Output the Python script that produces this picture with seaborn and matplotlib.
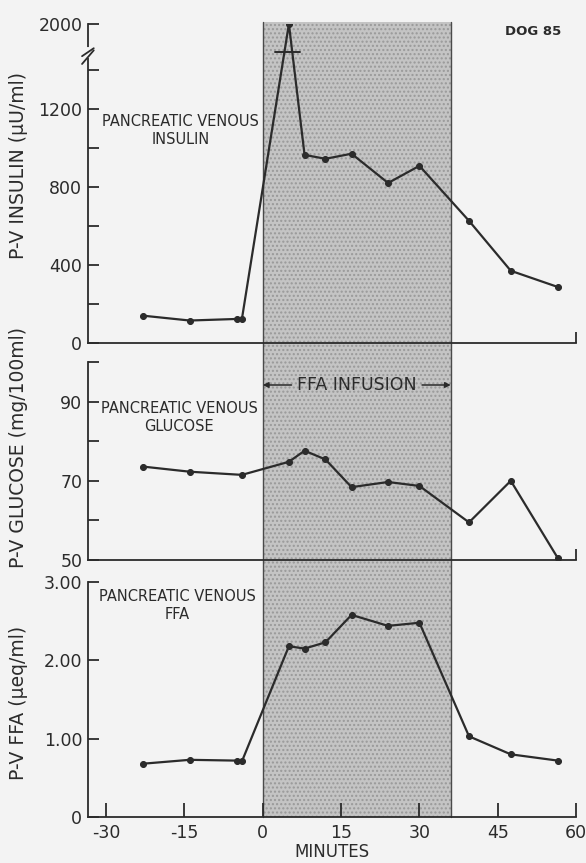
import numpy as np
import pandas as pd
import matplotlib.pyplot as plt
import matplotlib.transforms as mtransforms
from matplotlib.patches import Rectangle
from matplotlib.lines import Line2D
import seaborn as sns

sns.set_style('ticks')
plt.rcParams['font.family'] = ['DejaVu Sans']

# Dữ liệu (phút so với lúc bắt đầu truyền FFA)
minutes_ins = [-23, -14, -5, -4, 5, 8, 12, 17, 24, 30, 39.5, 47.5, 56.5]
insulin = [140, 115, 123, 123, 2000, 964, 944, 970, 820, 908, 626, 370, 287]

minutes_glu = [-23, -14, -4, 5, 8, 12, 17, 24, 30, 39.5, 47.5, 56.5]
glucose = [73.6, 72.3, 71.5, 74.8, 77.6, 75.4, 68.4, 69.7, 68.7, 59.5, 70.0, 50.5]

minutes_ffa = [-23, -14, -5, -4, 5, 8, 12, 17, 24, 30, 39.5, 47.5, 56.5]
ffa = [0.68, 0.73, 0.72, 0.71, 2.18, 2.15, 2.23, 2.58, 2.44, 2.48, 1.03, 0.80, 0.72]

infusion = (0, 36)
x_ticks = [-30, -15, 0, 15, 30, 45, 60]

ink = '#2b2b2b'
paper = '#f3f3f3'

# Trục y bị ngắt trên 1500 (nén phần trên)
def fwd(v):
    v = np.asarray(v, dtype=float)
    return np.where(v <= 1500, v, 1500 + (v - 1500) * 0.27)

def inv(v):
    v = np.asarray(v, dtype=float)
    return np.where(v <= 1500, v, 1500 + (v - 1500) / 0.27)

fig = plt.figure(figsize=(5.86, 8.63), dpi=100, facecolor=paper)
L, W = 0.150, 0.833
ax1 = fig.add_axes([L, 0.6026, W, 0.3696])
ax2 = fig.add_axes([L, 0.3511, W, 0.2294])
ax3 = fig.add_axes([L, 0.0533, W, 0.2723])

line_kw = dict(color=ink, linewidth=1.6, marker='o', markersize=4.3,
               markeredgecolor=ink, markerfacecolor=ink)

df_ins = pd.DataFrame({'min': minutes_ins, 'val': insulin})
df_glu = pd.DataFrame({'min': minutes_glu, 'val': glucose})
df_ffa = pd.DataFrame({'min': minutes_ffa, 'val': ffa})

ax1.set_yscale('function', functions=(fwd, inv))
sns.lineplot(data=df_ins, x='min', y='val', ax=ax1, **line_kw)
sns.lineplot(data=df_glu, x='min', y='val', ax=ax2, **line_kw)
sns.lineplot(data=df_ffa, x='min', y='val', ax=ax3, **line_kw)

for ax in (ax1, ax2, ax3):
    ax.set_facecolor('none')
    ax.set_xlim(-33.5, 60)
    ax.spines['top'].set_visible(False)
    ax.spines['right'].set_visible(False)
    for s in ('left', 'bottom'):
        ax.spines[s].set_color(ink)
        ax.spines[s].set_linewidth(1.3)
    ax.tick_params(direction='in', length=8, width=1.3, colors=ink,
                   labelsize=12.5, pad=4)
    ax.set_xlabel('')

# Trục y
ax1.set_ylim(0, 2000)
yt1 = [0, 200, 400, 600, 800, 1000, 1200, 1400, 2000]
ax1.set_yticks(yt1, ['0', '', '400', '', '800', '', '1200', '', '2000'])
ax2.set_ylim(50, 100)
ax2.set_yticks([50, 60, 70, 80, 90, 100], ['50', '', '70', '', '90', ''])
ax3.set_ylim(0, 3)
ax3.set_yticks([0, 1, 2, 3], ['0', '1.00', '2.00', '3.00'])

# Trục x
ax1.set_xticks([60], [''])
ax2.set_xticks([60], [''])
ax3.set_xticks(x_ticks, [str(t) for t in x_ticks])
ax3.tick_params(axis='x', length=10, pad=5)
ax3.set_xlabel('MINUTES', fontsize=12, color=ink, labelpad=1)

lab_kw = dict(fontsize=13.5, color=ink)
ax1.set_ylabel('P-V INSULIN (μU/ml)', **lab_kw)
ax2.set_ylabel('P-V GLUCOSE (mg/100ml)', **lab_kw)
ax3.set_ylabel('P-V FFA (μeq/ml)', **lab_kw)
ax1.yaxis.set_label_coords(-0.122, 0.555)
ax2.yaxis.set_label_coords(-0.122, 0.566)
ax3.yaxis.set_label_coords(-0.122, 0.485)

# Ký hiệu ngắt trục trên trục y và trên đường dữ liệu
brk = mtransforms.blended_transform_factory(ax1.transAxes, ax1.transData)
ax1.plot([0, 0], [1470, 1520], transform=brk, color=paper, lw=3,
         clip_on=False, zorder=5)
for yb in (1455, 1495):
    ax1.plot([-0.012, 0.012], [yb - 25, yb + 45], transform=brk, color=ink,
             lw=1.3, clip_on=False, zorder=6)
peak_x = minutes_ins[int(np.argmax(insulin))]
ax1.plot([peak_x - 2.6, peak_x + 2.2], [1490, 1490], color=ink, lw=1.4, zorder=6)

# Chú thích từng panel
txt_kw = dict(fontsize=10.5, color=ink, ha='center', va='center', linespacing=1.25)
ax1.text(-15.8, 1090, 'PANCREATIC VENOUS\nINSULIN', **txt_kw)
ax2.text(-16, 86.1, 'PANCREATIC VENOUS\nGLUCOSE', **txt_kw)
ax3.text(-16.4, 2.70, 'PANCREATIC VENOUS\nFFA', **txt_kw)
ax1.text(0.912, 0.975, 'DOG 85', transform=ax1.transAxes, fontsize=9.5,
         color=ink, ha='center', va='center', fontweight='bold')

# Nhãn truyền FFA với mũi tên
mid = (infusion[0] + infusion[1]) / 2
ax2.text(mid, 94.2, 'FFA INFUSION', fontsize=12.5, color=ink, ha='center',
         va='center')
arr = dict(arrowstyle='-|>', color=ink, lw=1.1, mutation_scale=8,
           shrinkA=0, shrinkB=0)
ax2.annotate('', xy=(infusion[0], 94.2), xytext=(5.5, 94.2), arrowprops=arr)
ax2.annotate('', xy=(infusion[1], 94.2), xytext=(30.5, 94.2), arrowprops=arr)

# Vùng truyền FFA được tô xám xuyên suốt 3 panel
tr = mtransforms.blended_transform_factory(ax3.transData, fig.transFigure)
y0, y1 = 0.0533, 1 - 22 / 863
w = infusion[1] - infusion[0]
fig.add_artist(Rectangle((infusion[0], y0), w, y1 - y0, transform=tr,
                         facecolor='#c4c4c4', edgecolor='none', zorder=-2))
fig.add_artist(Rectangle((infusion[0], y0), w, y1 - y0, transform=tr,
                         facecolor='none', edgecolor='#999999', linewidth=0,
                         hatch='....', zorder=-1))
for xe in infusion:
    fig.add_artist(Line2D([xe, xe], [y0, y1], transform=tr,
                          color='#4a4a4a', lw=1.0, zorder=-1))

fig.savefig('out.png', dpi=100, facecolor=paper)
